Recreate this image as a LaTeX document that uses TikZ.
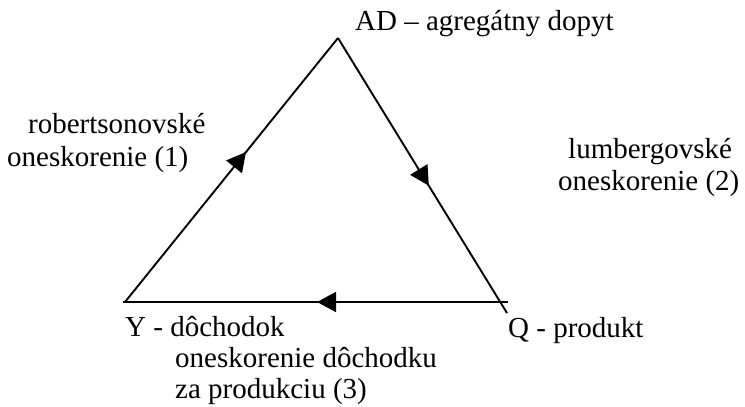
\documentclass[tikz,border=0pt]{standalone}
\usepackage{fontspec}
\setmainfont{Liberation Serif}
\usetikzlibrary{arrows.meta,decorations.markings}
\tikzset{
  lbl/.style={anchor=base west,inner sep=0pt,font=\fontsize{29}{34}\selectfont},
  side/.style={line width=1.9pt,black},
  midarrow/.style={postaction={decorate},decoration={markings,
    mark=at position #1 with {\arrow{Triangle[length=19pt,width=20pt]}}}}
}
\begin{document}
\begin{tikzpicture}[x=1pt,y=-1pt]
\useasboundingbox (0,0) rectangle (745,407);
\coordinate (A) at (338,38);
\coordinate (L) at (123,302);
\coordinate (Lt) at (125,302);
\coordinate (R) at (508,302);
\coordinate (B) at (507,313);
\draw[side,midarrow=0.568] (Lt) -- (A);
\draw[side,midarrow=0.537] (A) -- (B);
\draw[side,midarrow=0.496] (R) -- (L);
\node[lbl] (ad) at (355,30) {AD – agregátny dopyt};
\node[lbl] (rob1) at (28,133) {robertsonovské};
\node[lbl] (rob2) at (7,166) {oneskorenie (1)};
\node[lbl] (lum1) at (568,158) {lumbergovské};
\node[lbl] (lum2) at (558,190) {oneskorenie (2)};
\node[lbl] (y) at (125,336) {Y - dôchodok};
\node[lbl] (q) at (508,337) {Q - produkt};
\node[lbl] (d1) at (175,367) {oneskorenie dôchodku};
\node[lbl] (d2) at (175,398) {za produkciu (3)};
\end{tikzpicture}
\end{document}
